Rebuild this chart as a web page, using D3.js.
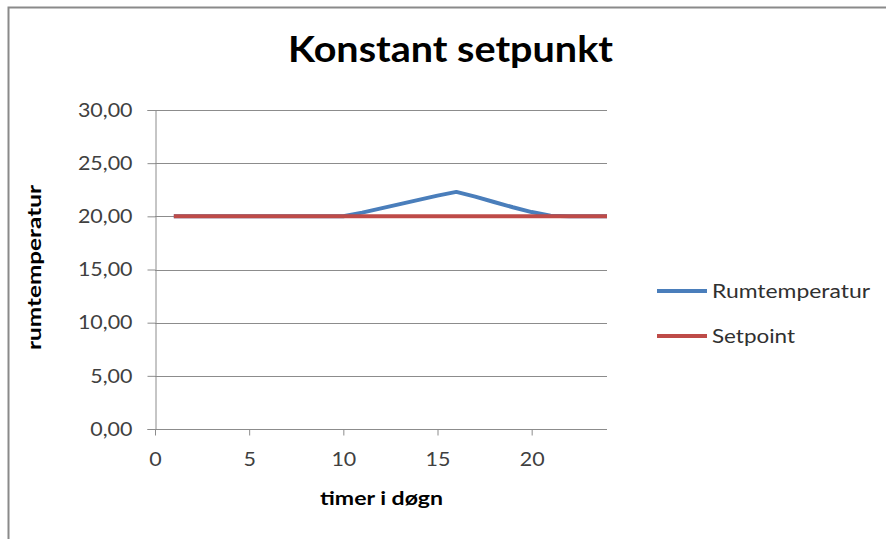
<!DOCTYPE html>
<html><head><meta charset="utf-8">
<script src="https://cdn.jsdelivr.net/npm/d3@7"></script>
<style>body{margin:0;background:#fff}svg{display:block}text{font-family:Lato,"Open Sans",sans-serif}</style>
</head><body><svg id="c" width="886" height="539"></svg>
<script>
const hours = [1,2,3,4,5,6,7,8,9,10,11,12,13,14,15,16,17,18,19,20,21,22,23,24];
const rumtemperatur = [20,20,20,20,20,20,20,20,20,20,20.35,20.75,21.15,21.55,21.95,22.3,21.85,21.35,20.85,20.4,20.05,20,20,20];
const setpoint = [20,20,20,20,20,20,20,20,20,20,20,20,20,20,20,20,20,20,20,20,20,20,20,20];
const xTicks = [0,5,10,15,20];
const yTicks = [0,5,10,15,20,25,30];
const seriesNames = ["Rumtemperatur","Setpoint"];
const colors = ["#4a7ebb","#be4b48"];

const svg = d3.select("#c");
// frame
svg.append("path").attr("d","M8.5,539 V7.5 H886").attr("fill","none").attr("stroke","#8a8a8a").attr("stroke-width",2);

const x = d3.scaleLinear().domain([0,24]).range([155,607]);
const y = d3.scaleLinear().domain([0,30]).range([429,110]);

// gridlines
svg.append("g").selectAll("line").data(yTicks.slice(1)).join("line")
  .attr("x1",155).attr("x2",607).attr("y1",d=>Math.round(y(d))+0.5).attr("y2",d=>Math.round(y(d))+0.5)
  .attr("stroke","#8c8c8c").attr("stroke-width",1);

const fmt = d => d3.format(".2f")(d).replace(".",",");
const yAxis = svg.append("g").attr("transform","translate(155.5,0)")
  .call(d3.axisLeft(y).tickValues(yTicks).tickFormat(fmt).tickSize(8).tickPadding(15));
const xAxis = svg.append("g").attr("transform","translate(0,429.5)")
  .call(d3.axisBottom(x).tickValues(xTicks).tickSize(6).tickPadding(17));
[yAxis,xAxis].forEach(a=>{
  a.select(".domain").attr("stroke","#8c8c8c");
  a.selectAll(".tick line").attr("stroke","#8c8c8c");
  a.selectAll("text").attr("font-size",19.5).attr("fill","#404040").attr("font-family","Lato,sans-serif");
});
[yAxis,xAxis].forEach(a=>a.selectAll("text").each(function(){
  const w=this.getComputedTextLength();
  d3.select(this).attr("textLength",w*1.1).attr("lengthAdjust","spacingAndGlyphs");
}));
xAxis.select(".domain").attr("d","M155,0H607");

const line = d3.line().x((d,i)=>x(hours[i])).y(d=>y(d));
[rumtemperatur,setpoint].forEach((s,k)=>{
  svg.append("path").datum(s).attr("d",line).attr("fill","none")
    .attr("stroke",colors[k]).attr("stroke-width",4).attr("stroke-linejoin","round");
});

svg.append("text").attr("x",288).attr("y",62)
  .attr("font-size",36).attr("font-weight","bold").attr("fill","#000")
  .attr("textLength",325).attr("lengthAdjust","spacingAndGlyphs").text("Konstant setpunkt");
svg.append("text").attr("x",320).attr("y",505)
  .attr("font-size",19).attr("font-weight","bold").attr("fill","#000")
  .attr("textLength",123).attr("lengthAdjust","spacingAndGlyphs").text("timer i døgn");
svg.append("text").attr("transform","translate(41,350) rotate(-90)")
  .attr("font-size",19).attr("font-weight","bold").attr("fill","#000")
  .attr("textLength",165).attr("lengthAdjust","spacingAndGlyphs").text("rumtemperatur");

const legW = [158,83];
const leg = svg.append("g").selectAll("g").data(seriesNames).join("g")
  .attr("transform",(d,i)=>`translate(657,${291+i*45})`);
leg.append("line").attr("x1",0).attr("x2",50).attr("stroke",(d,i)=>colors[i]).attr("stroke-width",4);
leg.append("text").attr("x",55).attr("y",7).attr("font-size",19.5).attr("fill","#303030")
  .attr("textLength",(d,i)=>legW[i]).attr("lengthAdjust","spacingAndGlyphs").text(d=>d);
</script></body></html>
